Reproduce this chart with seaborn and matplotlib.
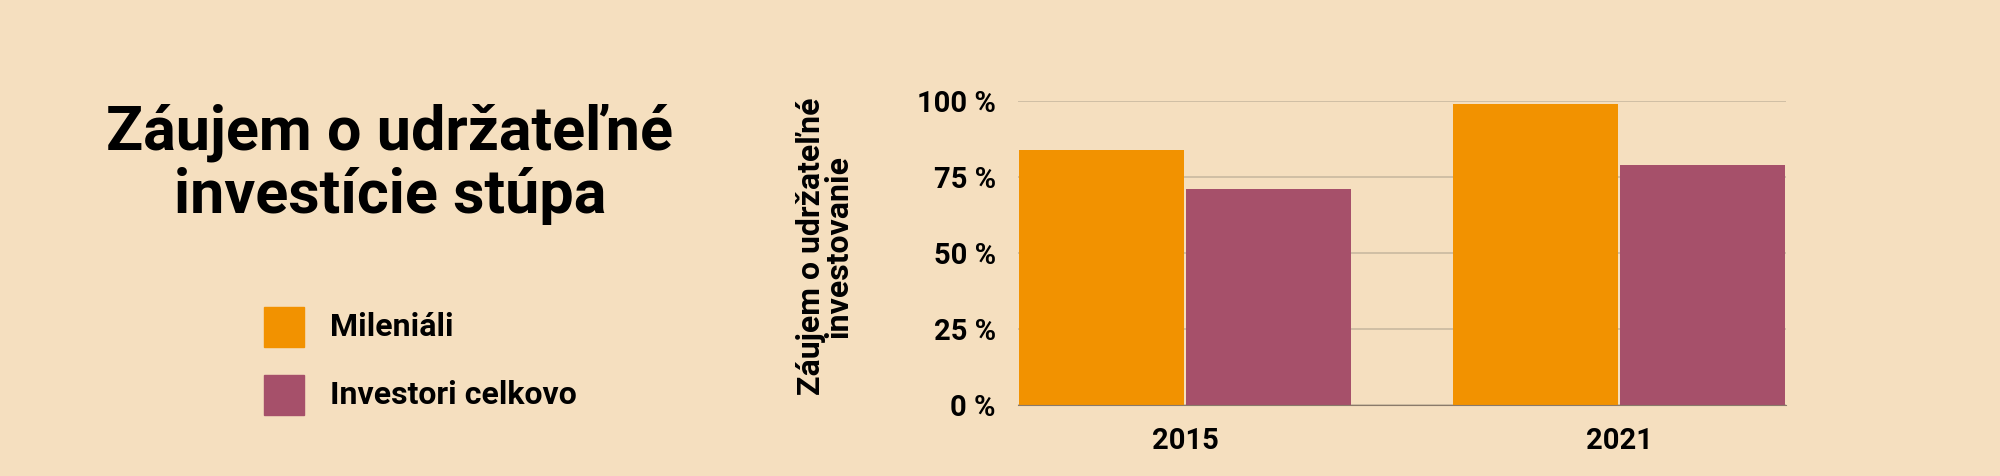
import matplotlib
matplotlib.use('Agg')
import matplotlib.pyplot as plt
import pandas as pd
import seaborn as sns

years = ['2015', '2021']
mileniali = [84, 99]
investori = [71, 79]
series = ['Mileniáli', 'Investori celkovo']
colors = ['#F29200', '#A6506A']
bg = '#F5DFBF'

df = pd.DataFrame({
    'Rok': years * 2,
    'Hodnota': mileniali + investori,
    'Skupina': [series[0]] * 2 + [series[1]] * 2,
})

sns.set_style('white')
plt.rcParams['font.family'] = ['Roboto', 'DejaVu Sans']
plt.rcParams['text.color'] = 'black'
plt.rcParams['xtick.color'] = 'black'
plt.rcParams['ytick.color'] = 'black'
plt.rcParams['axes.labelcolor'] = 'black'

fig = plt.figure(figsize=(20, 4.76), dpi=100, facecolor=bg)
ax = fig.add_axes([0.509, 0.15, 0.384, 0.638], facecolor=bg)
w = 0.77
sns.barplot(data=df, x='Rok', y='Hodnota', hue='Skupina', palette=colors,
            width=w, gap=0.01, legend=False, ax=ax, saturation=1,
            linewidth=0)
ax.set_xlim(-w / 2, 1 + w / 2)
ax.set_ylim(0, 100)
ax.set_yticks([0, 25, 50, 75, 100])
ax.set_yticklabels(['0 %', '25 %', '50 %', '75 %', '100 %'])
ax.yaxis.grid(True, color='#C9B9A0', linewidth=1.2)
ax.set_axisbelow(True)
for b in ax.patches:
    b.set_clip_on(False)
for s in ['top', 'right', 'left']:
    ax.spines[s].set_visible(False)
ax.spines['bottom'].set_color('#8a7a6a')
ax.tick_params(axis='both', length=0, labelsize=21, pad=16)
for lab in ax.get_xticklabels() + ax.get_yticklabels():
    lab.set_fontweight('bold')
ax.set_xlabel('')
ax.set_ylabel('Záujem o udržateľné\ninvestovanie', fontsize=23,
              fontweight='bold', linespacing=0.85, labelpad=26)
ax.yaxis.set_label_coords(-0.215, 0.52)

fig.text(0.195, 0.655, 'Záujem o udržateľné\ninvestície stúpa', ha='center',
         va='center', fontsize=44, fontweight='bold', linespacing=1.1)
for i, (name, c) in enumerate(zip(series, colors)):
    y = 0.27 - i * 0.142
    fig.patches.append(plt.Rectangle((0.132, y), 0.02, 0.084,
                                     transform=fig.transFigure, color=c))
    fig.text(0.165, y + 0.042, name, va='center', fontsize=23,
             fontweight='bold')

fig.savefig('out.png', facecolor=bg)
